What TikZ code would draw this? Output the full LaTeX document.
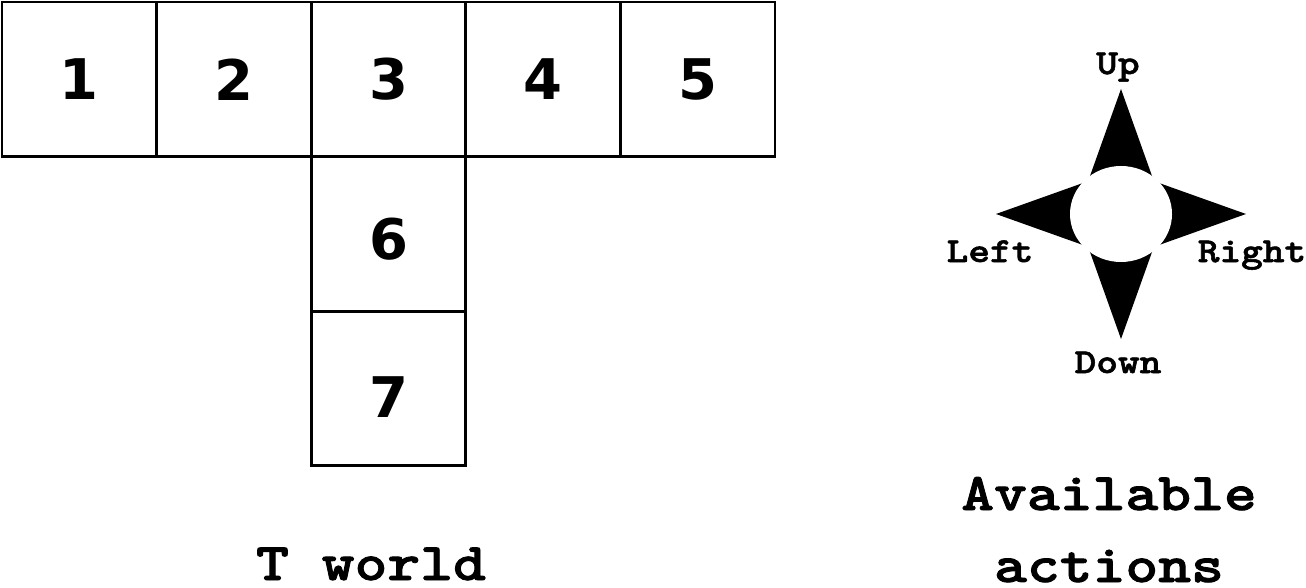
\documentclass[tikz,border=0pt]{standalone}
\usepackage{fontspec}
\newfontfamily\typefont[FakeStretch=1.18, FakeBold=1.6]{lmmonolt10-bold.otf}
\newfontfamily\digitfont{DejaVu Sans}
\usetikzlibrary{positioning}

\tikzset{
  cell/.style={draw, line width=2.9pt, minimum size=154.6pt, inner sep=0pt, outer sep=0pt,
    font=\digitfont\bfseries\fontsize{56}{60}\selectfont},
  dirlabel/.style={anchor=base, inner sep=0pt, font=\typefont\fontsize{35}{40}\selectfont},
  title/.style={anchor=base, inner sep=0pt, align=center, font=\typefont\fontsize{53}{72}\selectfont},
}

\begin{document}
\begin{tikzpicture}[x=1pt, y=1pt, node distance=0pt]
\useasboundingbox (0,0) rectangle (1306,-588);

\node[cell] (c1) at (79.3,-79.3) {1};
\node[cell, right=of c1] (c2) {2};
\node[cell, right=of c2] (c3) {3};
\node[cell, right=of c3] (c4) {4};
\node[cell, right=of c4] (c5) {5};
\node[cell, below=of c3, text height=52pt] (c6) {6};
\node[cell, below=of c6, text height=58pt] (c7) {7};

\node[title] (tworld) at (371,-580) {T world};

\begin{scope}[shift={(1121,-214)}]
\foreach \ang in {0,90,180,270}
  \fill[rotate=\ang] (125,0) -- (10,41) -- (10,-41) -- cycle;
\fill[white] (0,0) ellipse [x radius=51, y radius=48];
\end{scope}

\node[dirlabel] (up) at (1118,-74) {Up};
\node[dirlabel] (left) at (990,-262) {Left};
\node[dirlabel] (right) at (1252,-262) {Right};
\node[dirlabel] (down) at (1118,-373) {Down};

\node[title] (actions) at (1109,-582) {Available\\actions};
\end{tikzpicture}
\end{document}
